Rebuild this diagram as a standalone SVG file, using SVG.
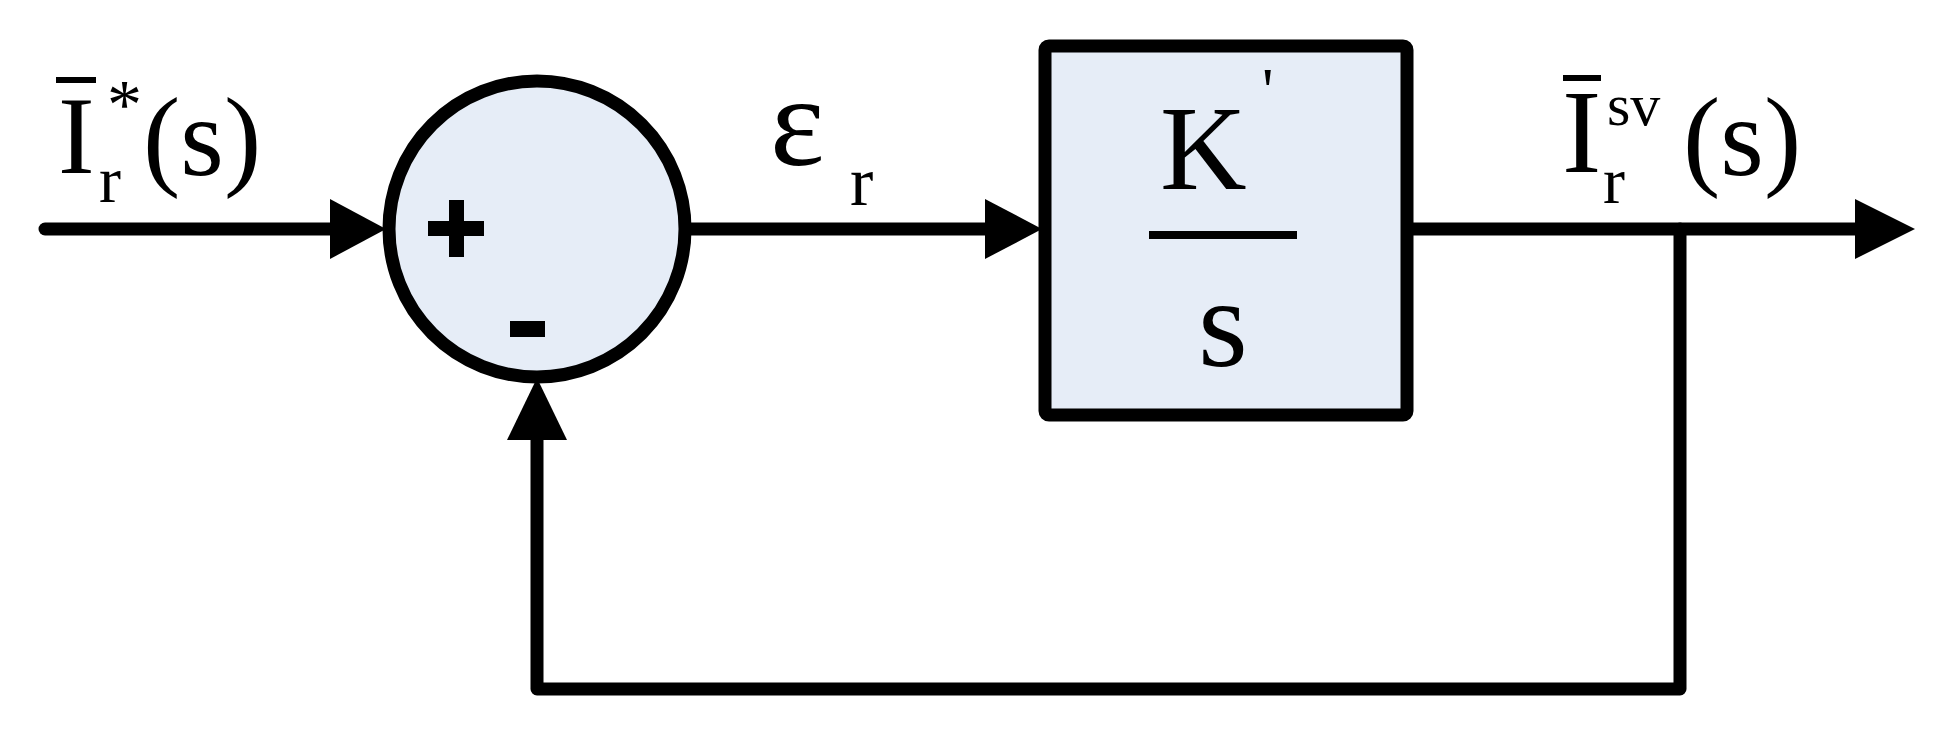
<svg xmlns="http://www.w3.org/2000/svg" width="1950" height="739" viewBox="0 0 1950 739">
<style>
.ln{fill:none;stroke:#000;stroke-width:13;stroke-linecap:round;stroke-linejoin:round}
.t{font-family:'Liberation Serif','Times New Roman',Tinos,serif;fill:#000}
.node{fill:#e6edf7;stroke:#000;stroke-width:13}
.ah{fill:#000}
</style>
<g id="connectors">
<path class="ln" d="M45,229 L340,229"/>
<polygon class="ah" points="330,199 386,229 330,259"/>
<path class="ln" d="M686,229 L995,229"/>
<polygon class="ah" points="985,199 1042,229 985,259"/>
<path class="ln" d="M1410,229 L1865,229"/>
<polygon class="ah" points="1855,199 1915,229 1855,259"/>
<path class="ln" d="M1680,229 L1680,689 L537,689 L537,430"/>
<polygon class="ah" points="507,440 537,378 567,440"/>
</g>
<g id="sum">
<circle class="node" cx="537" cy="229" r="148"/>
<rect x="428" y="221" width="56" height="15" fill="#000"/>
<rect x="449" y="200" width="15" height="57" fill="#000"/>
<rect x="510" y="321" width="35" height="16" fill="#000"/>
</g>
<g id="block">
<rect class="node" x="1045" y="46" width="362" height="369" rx="4"/>
<text class="t" x="1160" y="189" font-size="120">K</text>
<text class="t" x="1262" y="112" font-size="64">'</text>
<rect x="1149" y="231" width="148" height="8" fill="#000"/>
<text class="t" x="1198" y="366" font-size="128">s</text>
</g>
<g id="labels">
<rect x="56" y="77" width="40" height="6" fill="#000"/>
<text class="t" x="58" y="173" font-size="110">I</text>
<text class="t" x="99" y="202" font-size="66">r</text>
<text class="t" x="107" y="128" font-size="70">*</text>
<text class="t" x="143" y="175" font-size="112">(s)</text>
<text class="t" x="770" y="165" font-size="130">ε</text>
<text class="t" x="850" y="205" font-size="70">r</text>
<rect x="1563" y="75" width="38" height="6" fill="#000"/>
<text class="t" x="1562" y="172" font-size="118">I</text>
<text class="t" x="1603" y="203" font-size="66">r</text>
<text class="t" x="1607" y="125" font-size="60">sv</text>
<text class="t" x="1683" y="175" font-size="112">(s)</text>
</g>
</svg>
